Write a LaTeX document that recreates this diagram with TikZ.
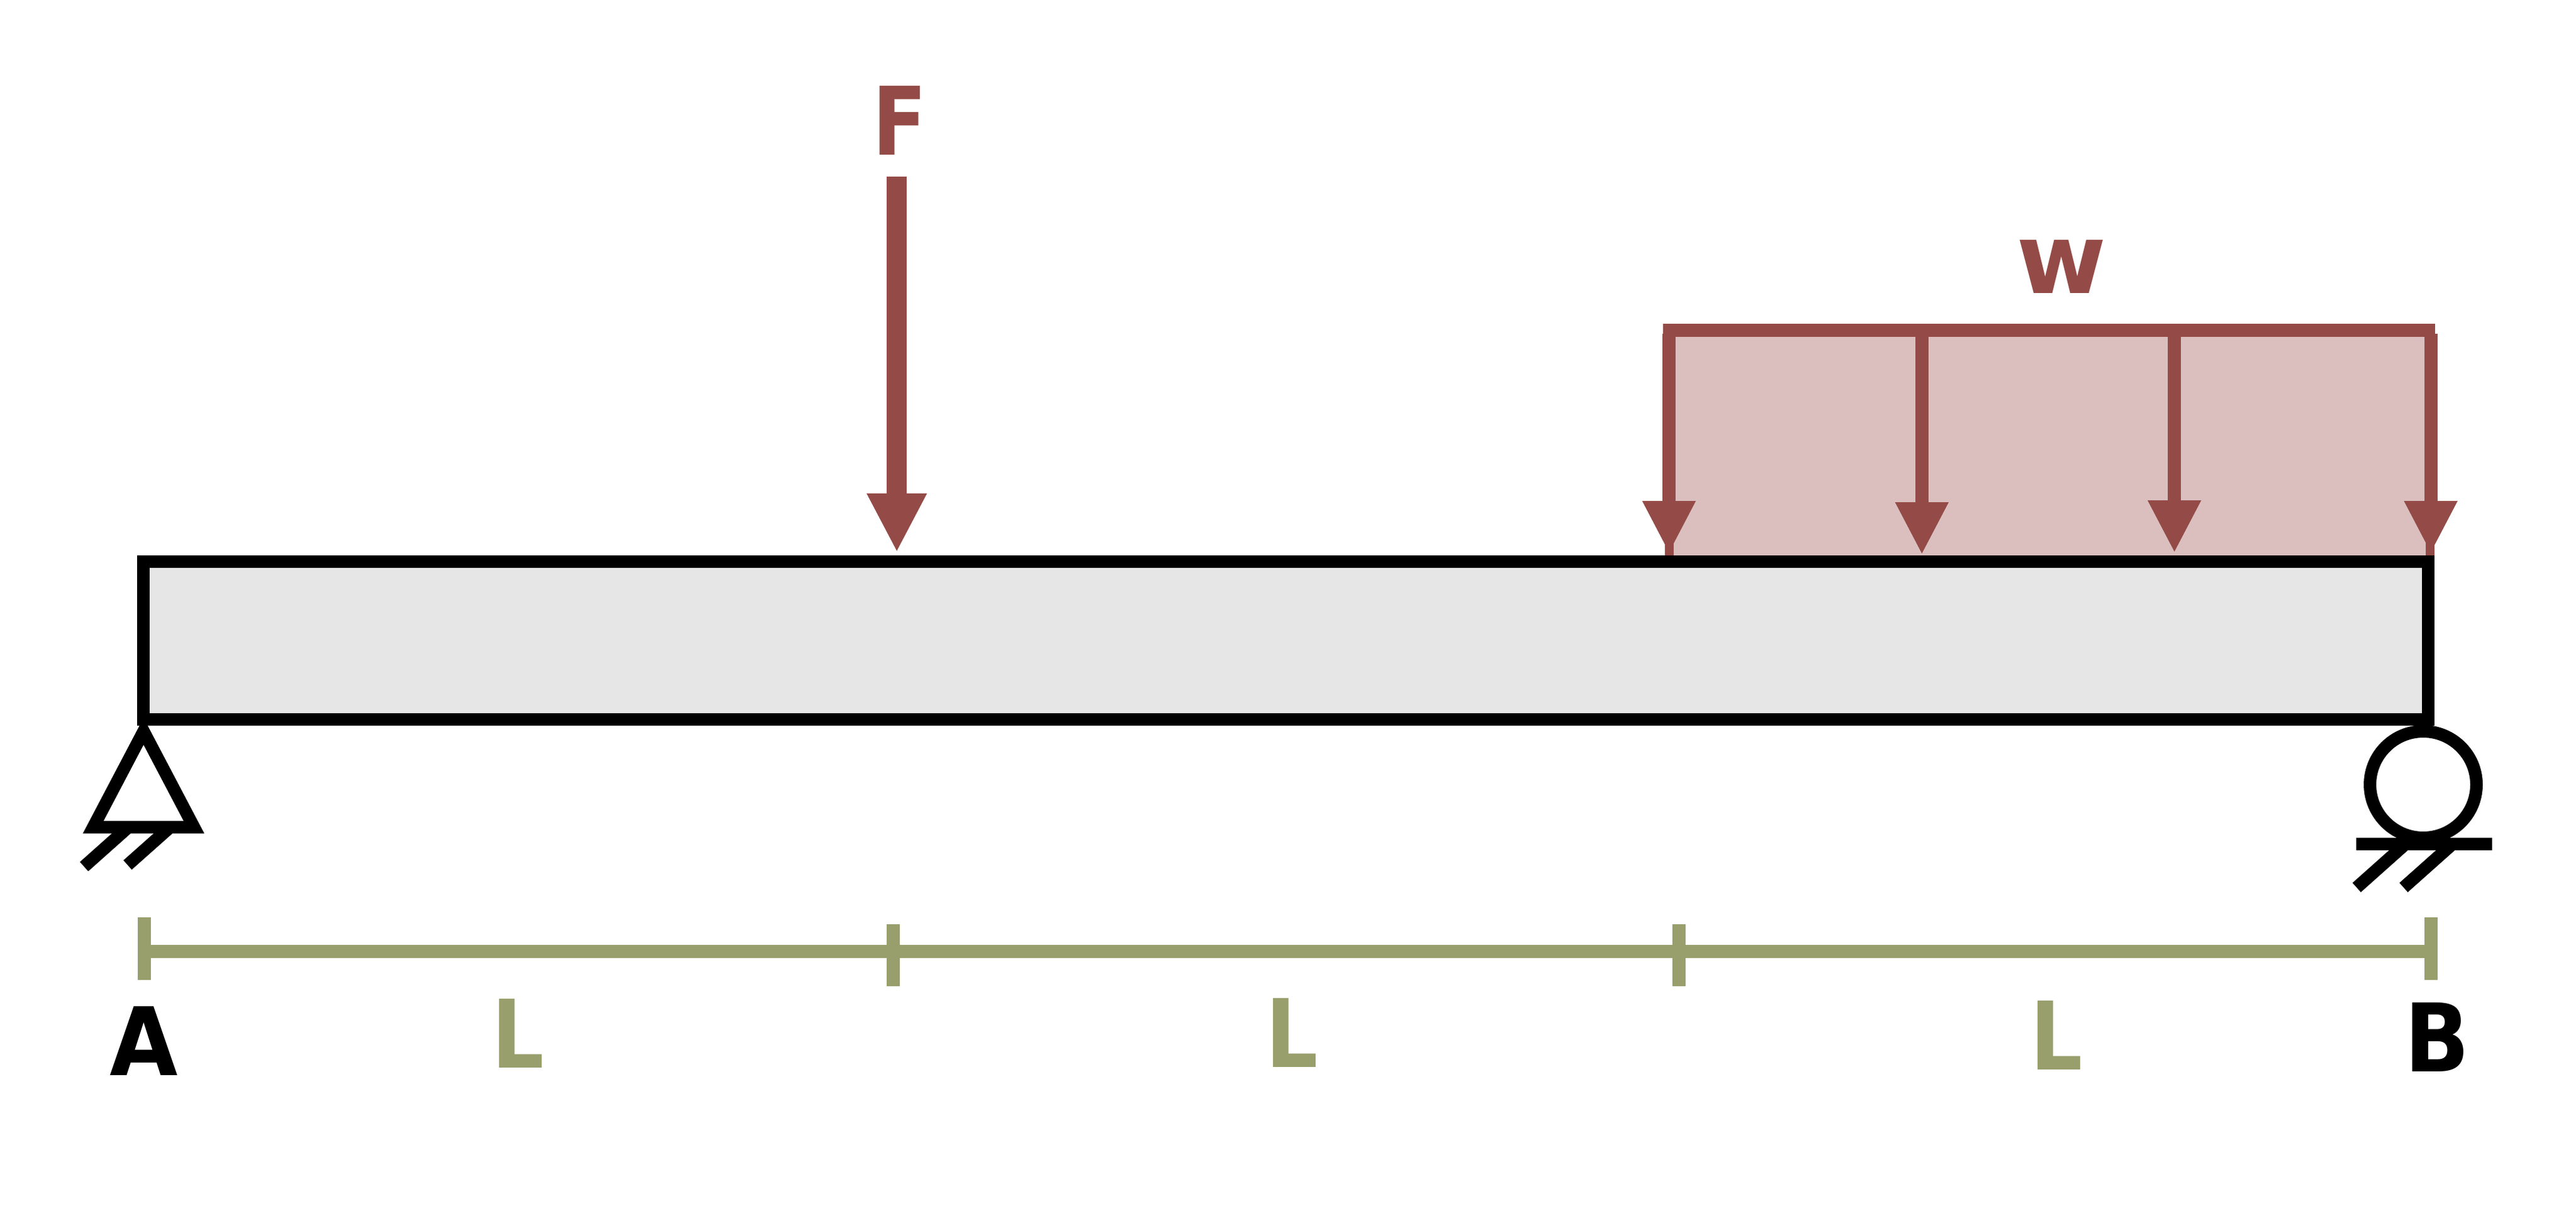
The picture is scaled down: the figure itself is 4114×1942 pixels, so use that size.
\documentclass[tikz,border=0pt]{standalone}
\usepackage{fontspec}
\usepackage{graphicx}
\setmainfont{DejaVu Sans}
\usetikzlibrary{arrows.meta}
\definecolor{loadc}{HTML}{944B47}
\definecolor{loadf}{HTML}{DBBFBF}
\definecolor{dimc}{HTML}{989F6C}
\definecolor{beamf}{HTML}{E6E6E6}
\newcommand{\lbl}[3]{\scalebox{#1}[#2]{#3}}
\tikzset{
  x=1pt,y=-1pt,
  beam/.style={draw=black,fill=beamf,line width=20pt,miter limit=20},
  support/.style={draw=black,line width=20pt,line join=miter,miter limit=20},
  dimline/.style={draw=dimc,line width=20.5pt},
  dimtick/.style={draw=dimc,line width=21pt},
  bigload/.style={draw=loadc,line width=31.7pt,-{Triangle[length=94pt,width=89pt,fill=loadc]}},
  distload/.style={draw=loadc,line width=21pt,-{Triangle[length=84pt,width=79pt,fill=loadc]}},
  stub/.style={draw=loadc,line width=14pt},
  labeltext/.style={inner sep=0pt,anchor=base,font=\fontsize{151}{151}\selectfont\bfseries},
}
\begin{document}
\begin{tikzpicture}
\useasboundingbox[fill=white] (0,0) rectangle (4114,1942);
% distributed load
\fill[loadf] (2665,527) rectangle (3880,887);
\coordinate (w1t) at (2665.5,533); \coordinate (w1b) at (2665.5,884);
\coordinate (w2t) at (3069.3,533); \coordinate (w2b) at (3069.3,886);
\coordinate (w3t) at (3472.6,533); \coordinate (w3b) at (3472.6,883);
\coordinate (w4t) at (3882,533);   \coordinate (w4b) at (3882,884);
\draw[stub] (2665.9,860) -- (2665.9,887);
\draw[stub] (3881.3,860) -- (3881.3,887);
\draw[distload] (w1t) -- (w1b);
\draw[distload] (w2t) -- (w2b);
\draw[distload] (w3t) -- (w3b);
\draw[distload] (w4t) -- (w4b);
\coordinate (barL) at (2656,527.5); \coordinate (barR) at (3889,527.5);
\draw[draw=loadc,line width=21pt] (barL) -- (barR);
% point load
\coordinate (Ft) at (1432.2,282); \coordinate (Fb) at (1432.2,882);
\draw[bigload] (Ft) -- (Fb);
% supports
\coordinate (t1) at (229.3,1168); \coordinate (t2) at (148.9,1321); \coordinate (t3) at (309.7,1321);
\draw[support] (t1) -- (t2) -- (t3) -- cycle;
\draw[support] (205,1321) -- (134.3,1384);
\draw[support] (271.7,1321) -- (203.8,1381.4);
\node[draw=black,line width=20pt,circle,minimum size=170pt,inner sep=0pt] (roller) at (3870,1253) {};
\coordinate (g1) at (3763.3,1348); \coordinate (g2) at (3980,1348);
\draw[support] (g1) -- (g2);
\draw[support] (3841.6,1348) -- (3763.7,1417.4);
\draw[support] (3916.6,1348) -- (3838.7,1417.4);
% beam
\draw[beam] (229.3,897) rectangle (3878,1149);
% dimension
\coordinate (d1) at (230,1519.5); \coordinate (d2) at (3882.5,1519.5);
\draw[dimline] (d1) -- (d2);
\draw[dimtick] (230.2,1465) -- (230.2,1565);
\draw[dimtick] (1426.5,1476) -- (1426.5,1575);
\draw[dimtick] (2681,1476) -- (2681,1575);
\draw[dimtick] (3882.5,1465) -- (3882.5,1565);
% labels
\node[labeltext,text=loadc] (lF) at (1437,248) {\lbl{.84}{1}{F}};
\node[labeltext,text=loadc] (lW) at (3292,468) {\lbl{1.03}{1.03}{w}};
\node[labeltext,text=black] (lA) at (230,1717) {\lbl{.93}{1}{A}};
\node[labeltext,text=black] (lB) at (3892,1711) {\lbl{.9}{1}{B}};
\node[labeltext,text=dimc] (lL1) at (827,1705) {\lbl{.87}{1}{L}};
\node[labeltext,text=dimc] (lL2) at (2063,1704) {\lbl{.87}{1}{L}};
\node[labeltext,text=dimc] (lL3) at (3284,1708) {\lbl{.87}{1}{L}};
\end{tikzpicture}
\end{document}
